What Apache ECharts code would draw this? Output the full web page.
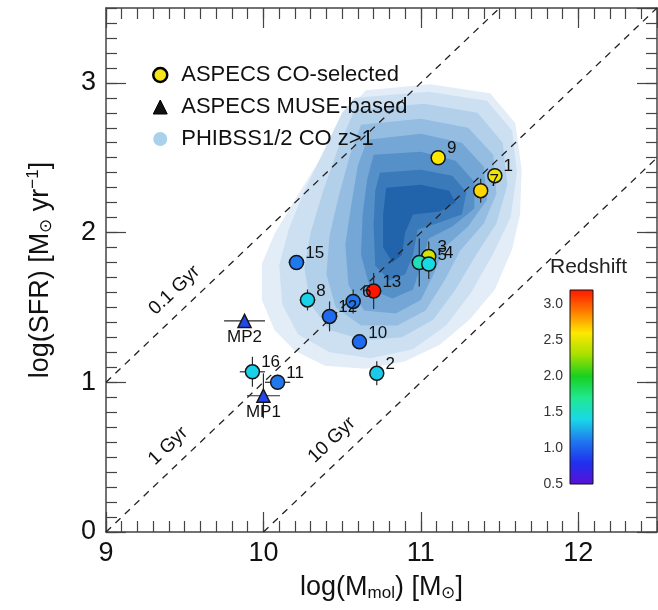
<!DOCTYPE html>
<html><head><meta charset="utf-8">
<script src="https://cdn.jsdelivr.net/npm/echarts@6/dist/echarts.min.js"></script>
<style>html,body{margin:0;padding:0;background:#fff}#c{width:658px;height:610px}</style>
</head><body><div id="c"></div>
<script>
// ---------------- data ----------------
const coLabels   = ['9','1','7','3','4','5','13','6','12','15','8','10','2','16','11'];
const coLogMmol  = [11.11, 11.47, 11.38, 11.05, 10.99, 11.05, 10.70, 10.57, 10.42, 10.21, 10.28, 10.61, 10.72, 9.93, 10.09];
const coLogSFR   = [2.50, 2.38, 2.28, 1.84, 1.80, 1.79, 1.61, 1.54, 1.44, 1.80, 1.55, 1.27, 1.06, 1.07, 1.00];
const coRedshift = [2.60, 2.55, 2.65, 2.45, 1.55, 1.42, 3.20, 1.09, 1.04, 1.10, 1.38, 1.04, 1.36, 1.38, 1.10];
const coErrMmol  = [0, 0, 0, 0, 0, 0, 0.05, 0.04, 0.05, 0.05, 0.05, 0, 0, 0.08, 0.08];
const coErrSFR   = [0, 0.05, 0.08, 0.10, 0.16, 0.10, 0.12, 0.08, 0.10, 0.03, 0.07, 0, 0.08, 0.10, 0.05];

const museLabels   = ['MP1','MP2'];
const museLogMmol  = [10.00, 9.88];
const museLogSFR   = [0.91, 1.41];
const museRedshift = [0.90, 0.90];
const museErrMmol  = [0.105, 0.13];
const museErrSFR   = [0.15, 0];

// depletion-time guide lines (log t in yr) and label x-positions
const depletionLabels = ['0.1 Gyr', '1 Gyr', '10 Gyr'];
const depletionLogYr  = [8, 9, 10];
const depletionLines  = [[[9, 1], [11.5, 3.5]], [[9, 0], [12.5, 3.5]], [[10, 0], [12.5, 2.5]]];
const depletionLabelX = [9.52, 9.48, 10.52];

// PHIBSS1/2 CO z>1 density contours (outer -> inner), [logMmol, logSFR]
const phibssLevel1 = [[10.65,2.95],[11.06,2.99],[11.44,2.93],[11.60,2.73],[11.64,2.42],[11.63,2.12],[11.58,1.89],[11.47,1.62],[11.31,1.42],[11.12,1.25],[10.90,1.14],[10.65,1.09],[10.39,1.11],[10.20,1.21],[10.07,1.35],[9.99,1.55],[9.99,1.79],[10.07,1.99],[10.20,2.22],[10.36,2.49],[10.49,2.76]];
const phibssLevel2 = [[10.58,2.90],[11.05,2.94],[11.42,2.88],[11.58,2.68],[11.61,2.40],[11.57,2.10],[11.46,1.86],[11.32,1.60],[11.16,1.38],[10.95,1.22],[10.68,1.16],[10.42,1.20],[10.22,1.32],[10.12,1.52],[10.10,1.78],[10.16,2.02],[10.26,2.28],[10.40,2.58],[10.50,2.80]];
const phibssLevel3 = [[10.58,2.82],[11.02,2.86],[11.36,2.80],[11.52,2.60],[11.55,2.32],[11.48,2.06],[11.35,1.85],[11.22,1.62],[11.08,1.42],[10.88,1.30],[10.64,1.28],[10.42,1.35],[10.30,1.52],[10.26,1.76],[10.30,2.00],[10.38,2.28],[10.48,2.58]];
const phibssLevel4 = [[10.62,2.72],[11.00,2.76],[11.30,2.70],[11.46,2.52],[11.48,2.26],[11.40,2.06],[11.25,1.88],[11.15,1.68],[11.03,1.48],[10.85,1.38],[10.62,1.38],[10.46,1.50],[10.40,1.72],[10.42,1.98],[10.48,2.25],[10.55,2.52]];
const phibssLevel5 = [[10.66,2.62],[11.00,2.66],[11.26,2.60],[11.40,2.44],[11.42,2.22],[11.30,2.04],[11.15,1.90],[11.08,1.72],[11.00,1.55],[10.84,1.46],[10.64,1.48],[10.54,1.65],[10.52,1.92],[10.56,2.20],[10.60,2.45]];
const phibssLevel6 = [[10.70,2.52],[11.00,2.54],[11.22,2.48],[11.34,2.34],[11.34,2.16],[11.20,2.04],[11.05,1.96],[11.00,1.78],[10.95,1.62],[10.82,1.56],[10.68,1.62],[10.62,1.85],[10.63,2.12],[10.66,2.36]];
const phibssLevel7 = [[10.74,2.40],[11.00,2.42],[11.20,2.38],[11.29,2.27],[11.26,2.12],[11.10,2.06],[10.98,2.02],[10.95,1.85],[10.90,1.72],[10.80,1.68],[10.71,1.78],[10.70,2.05],[10.71,2.28]];
const phibssLevel8 = [[10.78,2.30],[11.00,2.32],[11.18,2.28],[11.22,2.20],[11.12,2.14],[10.95,2.12],[10.90,2.00],[10.88,1.85],[10.82,1.80],[10.76,1.90],[10.76,2.12]];

const colorbarTicks = [0.5, 1.0, 1.5, 2.0, 2.5, 3.0];

// ---------------- styles ----------------
const FONT = "'Liberation Sans', Arial, Helvetica, sans-serif";
const FRAME = '#444';
const contourLevels = [phibssLevel1, phibssLevel2, phibssLevel3, phibssLevel4, phibssLevel5, phibssLevel6, phibssLevel7, phibssLevel8];
const contourColors = ['#e2edf8', '#cde0f2', '#b2d0ea', '#94bde1', '#74a7d5', '#5590c8', '#3a7aba', '#2264ab'];
const zColors = ['#5a10d6', '#2030ee', '#1f78ee', '#19d8e8', '#20e890', '#18d020', '#a8e000', '#ffe800', '#ff7a00', '#ff1500'];
const labelNudge = { '4': [16, 0] };

const gradStops = zColors.map((c, i) => ({ offset: i / (zColors.length - 1), color: c }));

function frameAxis(pos, min, max, interval, len, extra) {
  return Object.assign({
    type: 'value', gridIndex: 0, position: pos, min: min, max: max, interval: interval,
    axisLine: { show: false, onZero: false },
    axisTick: { show: true, inside: true, length: len, lineStyle: { color: FRAME, width: 1.2 } },
    axisLabel: { show: false },
    splitLine: { show: false }
  }, extra || {});
}
const lineOn = { show: true, onZero: false, lineStyle: { color: FRAME, width: 1.5 } };

const coData = coLabels.map((n, i) => {
  const item = { name: n, value: [coLogMmol[i], coLogSFR[i], coRedshift[i]] };
  if (labelNudge[n]) item.label = { offset: [labelNudge[n][0], -9 + labelNudge[n][1]] };
  return item;
});
const museData = museLabels.map((n, i) => ({ name: n, value: [museLogMmol[i], museLogSFR[i], museRedshift[i]] }));
const errData = coLabels.map((n, i) => [coLogMmol[i], coLogSFR[i], coErrMmol[i], coErrSFR[i]])
  .concat(museLabels.map((n, i) => [museLogMmol[i], museLogSFR[i], museErrMmol[i], museErrSFR[i]]));

const chart = echarts.init(document.getElementById('c'), null, { renderer: 'canvas' });
chart.setOption({
  animation: false,
  backgroundColor: '#fff',
  textStyle: { fontFamily: FONT },
  grid: [
    { left: 106, right: 1, top: 8, bottom: 78, containLabel: false },
    { left: 570, top: 290, width: 23, height: 194, show: true,
      backgroundColor: { type: 'linear', x: 0, y: 1, x2: 0, y2: 0, colorStops: gradStops },
      borderColor: '#111', borderWidth: 1 }
  ],
  xAxis: [
    frameAxis('bottom', 9, 12.5, 1, 20, {
      axisLine: lineOn,
      axisLabel: { show: true, fontSize: 27, color: '#111', margin: 8, showMaxLabel: false, fontFamily: FONT },
      name: 'log(M{sub|mol}) [M{sub|⊙}]', nameLocation: 'middle', nameGap: 41,
      nameTextStyle: { fontSize: 27, color: '#111', fontFamily: FONT,
        rich: { sub: { fontSize: 17, padding: [12, 0, 0, 0], fontFamily: FONT, color: '#111' } } }
    }),
    frameAxis('bottom', 9, 12.5, 0.1, 11),
    frameAxis('top', 9, 12.5, 1, 20, { axisLine: lineOn }),
    frameAxis('top', 9, 12.5, 0.1, 11),
    { type: 'value', gridIndex: 1, position: 'top', min: 0, max: 1,
      axisLine: { show: false }, axisTick: { show: false }, axisLabel: { show: false }, splitLine: { show: false },
      name: 'Redshift', nameLocation: 'middle', nameGap: 12,
      nameTextStyle: { fontSize: 21, color: '#222', fontFamily: FONT, padding: [0, 0, 0, 14] } }
  ],
  yAxis: [
    frameAxis('left', 0, 3.5, 1, 20, {
      axisLine: lineOn,
      axisLabel: { show: true, fontSize: 27, color: '#111', margin: 10, showMaxLabel: false, fontFamily: FONT },
      name: 'log(SFR) [M{sub|⊙} yr{sup|−1}]', nameLocation: 'middle', nameGap: 50,
      nameTextStyle: { fontSize: 27, color: '#111', fontFamily: FONT,
        rich: {
          sub: { fontSize: 17, padding: [12, 0, 0, 0], fontFamily: FONT, color: '#111' },
          sup: { fontSize: 17, padding: [0, 0, 14, 0], fontFamily: FONT, color: '#111' }
        } }
    }),
    frameAxis('left', 0, 3.5, 0.1, 11),
    frameAxis('right', 0, 3.5, 1, 20, { axisLine: lineOn }),
    frameAxis('right', 0, 3.5, 0.1, 11),
    { type: 'value', gridIndex: 1, position: 'left', min: 0.5, max: 3.2, interval: 0.5,
      axisLine: { show: false }, axisTick: { show: false }, splitLine: { show: false },
      axisLabel: { show: true, fontSize: 14, color: '#333', margin: 7, showMaxLabel: false, fontFamily: FONT,
        formatter: v => colorbarTicks.indexOf(Math.round(v * 10) / 10) >= 0 ? v.toFixed(1) : '' } }
  ],
  visualMap: {
    type: 'continuous', show: false, min: 0.5, max: 3.2, dimension: 2, seriesIndex: [6, 7],
    inRange: { color: zColors }
  },
  legend: {
    orient: 'vertical', left: 147, top: 59, itemWidth: 14, itemHeight: 14, itemGap: 10,
    selectedMode: false,
    textStyle: { fontSize: 22, color: '#111', fontFamily: FONT, padding: [0, 0, 0, 9] },
    data: [
      { name: 'ASPECS CO-selected', icon: 'circle', itemStyle: { color: '#f3e41c', borderColor: '#000', borderWidth: 2.5 } },
      { name: 'ASPECS MUSE-based', icon: 'triangle', itemStyle: { color: '#111', borderColor: '#000', borderWidth: 1 } },
      { name: 'PHIBSS1/2 CO z>1', icon: 'circle', itemStyle: { color: '#a9d1e9', borderWidth: 0 } }
    ]
  },
  series: [
    { type: 'custom', name: 'PHIBSS1/2 CO z>1', xAxisIndex: 0, yAxisIndex: 0, z: 1, silent: true, clip: true,
      itemStyle: { color: '#a9d1e9' },
      data: contourLevels.map((poly, i) => [poly[0][0], poly[0][1], i]),
      renderItem: function (params, api) {
        const poly = contourLevels[params.dataIndex];
        return { type: 'polygon', shape: { points: poly.map(p => api.coord(p)) },
          style: { fill: contourColors[params.dataIndex], stroke: null } };
      } },
    ...depletionLines.map((seg, i) => ({
      type: 'line', name: 'depl' + i, xAxisIndex: 0, yAxisIndex: 0, z: 2, silent: true,
      symbol: 'none', data: seg,
      lineStyle: { color: '#222', width: 1.3, type: [7, 6] }
    })),
    { type: 'custom', name: 'deplLabels', xAxisIndex: 0, yAxisIndex: 0, z: 3, silent: true,
      data: depletionLabelX.map((x, i) => [x, x - depletionLogYr[i]]),
      renderItem: function (params, api) {
        const i = params.dataIndex;
        const seg = depletionLines[i];
        const p1 = api.coord(seg[0]), p2 = api.coord(seg[1]);
        const dx = p2[0] - p1[0], dy = p2[1] - p1[1];
        const len = Math.hypot(dx, dy);
        const ux = dx / len, uy = dy / len;
        const c = api.coord([api.value(0), api.value(1)]);
        const off = 19.5;
        return { type: 'text', x: c[0] + uy * off, y: c[1] - ux * off, rotation: Math.atan2(-dy, dx),
          style: { text: depletionLabels[i], fontSize: 19, fontFamily: FONT, fill: '#111', align: 'center', verticalAlign: 'middle' } };
      } },
    { type: 'custom', name: 'errors', xAxisIndex: 0, yAxisIndex: 0, z: 4, silent: true,
      data: errData,
      renderItem: function (params, api) {
        const x = api.value(0), y = api.value(1), xe = api.value(2), ye = api.value(3);
        const ch = [];
        const st = { stroke: '#2a2a2a', lineWidth: 1.2 };
        if (xe > 0) { const a = api.coord([x - xe, y]), b = api.coord([x + xe, y]);
          ch.push({ type: 'line', shape: { x1: a[0], y1: a[1], x2: b[0], y2: b[1] }, style: st }); }
        if (ye > 0) { const a = api.coord([x, y - ye]), b = api.coord([x, y + ye]);
          ch.push({ type: 'line', shape: { x1: a[0], y1: a[1], x2: b[0], y2: b[1] }, style: st }); }
        return { type: 'group', children: ch };
      } },
    { type: 'scatter', name: 'ASPECS CO-selected', xAxisIndex: 0, yAxisIndex: 0, z: 5,
      symbol: 'circle', symbolSize: 14, data: coData,
      itemStyle: { color: '#f3e41c', borderColor: '#151515', borderWidth: 1.5, opacity: 1 },
      label: { show: true, position: 'right', distance: 1, offset: [0, -9], formatter: p => p.name,
        fontSize: 17, color: '#111', fontFamily: FONT } },
    { type: 'scatter', name: 'ASPECS MUSE-based', xAxisIndex: 0, yAxisIndex: 0, z: 5,
      symbol: 'triangle', symbolSize: 13, data: museData,
      itemStyle: { color: '#2048ee', borderColor: '#151515', borderWidth: 1.5, opacity: 1 },
      label: { show: true, position: 'bottom', distance: 1, formatter: p => p.name,
        fontSize: 17, color: '#111', fontFamily: FONT } }
  ]
});
</script></body></html>
